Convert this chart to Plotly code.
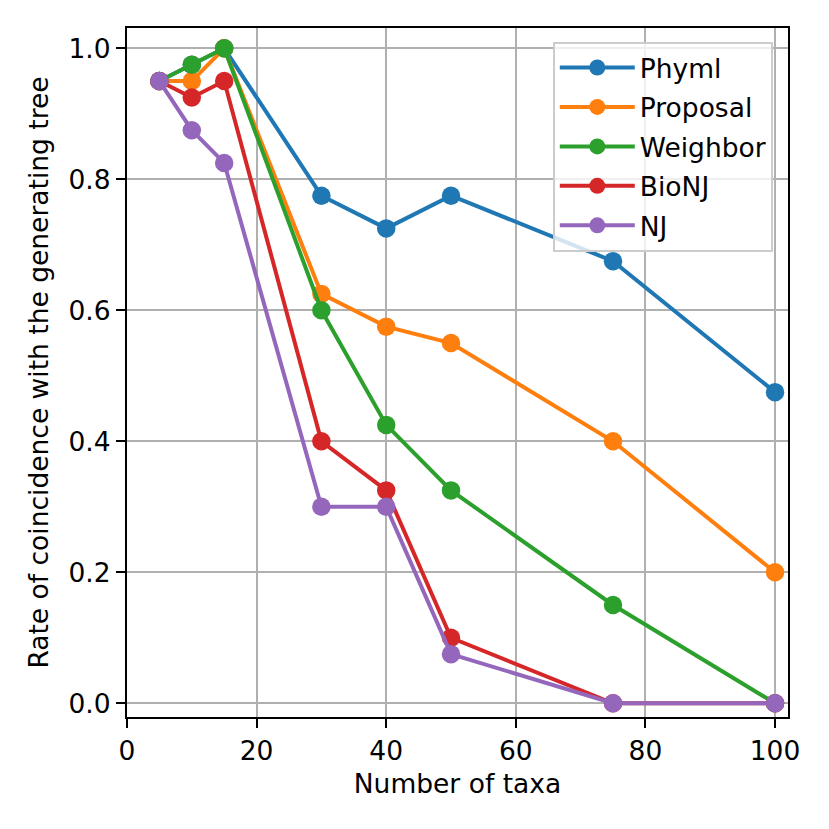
import plotly.graph_objects as go

taxa = [5, 10, 15, 30, 40, 50, 75, 100]
series_names = ["Phyml", "Proposal", "Weighbor", "BioNJ", "NJ"]
phyml = [0.95, 0.975, 1.0, 0.775, 0.725, 0.775, 0.675, 0.475]
proposal = [0.95, 0.95, 1.0, 0.625, 0.575, 0.55, 0.4, 0.2]
weighbor = [0.95, 0.975, 1.0, 0.6, 0.425, 0.325, 0.15, 0.0]
bionj = [0.95, 0.925, 0.95, 0.4, 0.325, 0.1, 0.0, 0.0]
nj = [0.95, 0.875, 0.825, 0.3, 0.3, 0.075, 0.0, 0.0]
colors = ["#1f77b4", "#ff7f0e", "#2ca02c", "#d62728", "#9467bd"]
x_ticks = [0, 20, 40, 60, 80, 100]
y_ticks = [0.0, 0.2, 0.4, 0.6, 0.8, 1.0]
y_tick_labels = ["0.0", "0.2", "0.4", "0.6", "0.8", "1.0"]

FONT = "DejaVu Sans"
FS = 26.5
fig = go.Figure()
for name, vals, col in zip(series_names, [phyml, proposal, weighbor, bionj, nj], colors):
    fig.add_trace(go.Scatter(
        x=taxa, y=vals, name=name, mode="lines+markers",
        line=dict(color=col, width=4),
        marker=dict(color=col, size=18.5),
        legendgroup=name,
    ))

axis_common = dict(
    showline=True, linecolor="black", linewidth=2.2, mirror=True,
    ticks="outside", ticklen=9, tickwidth=2.2, tickcolor="black",
    showgrid=True, gridcolor="#b0b0b0", gridwidth=2.2,
    zeroline=False,
    tickfont=dict(family=FONT, size=FS, color="black"),
)

fig.update_layout(
    width=829, height=829,
    paper_bgcolor="white", plot_bgcolor="white",
    margin=dict(l=119, r=49, t=20, b=120),
    font=dict(family=FONT, size=FS, color="black"),
    xaxis=dict(range=[0, 102], tickvals=x_ticks,
               title=dict(text="Number of taxa", font=dict(family=FONT, size=FS), standoff=10),
               **axis_common),
    yaxis=dict(range=[-0.021, 1.031], tickvals=y_ticks, ticktext=y_tick_labels,
               title=dict(text="Rate of coincidence with the generating tree",
                          font=dict(family=FONT, size=FS), standoff=12),
               **axis_common),
    legend=dict(x=0.977, y=0.98, xanchor="right", yanchor="top",
                bgcolor="rgba(255,255,255,0.8)", bordercolor="#cccccc", borderwidth=2,
                font=dict(family=FONT, size=FS, color="black"),
                tracegroupgap=2, itemwidth=75),
    showlegend=True,
)

fig.write_html("out.html")
